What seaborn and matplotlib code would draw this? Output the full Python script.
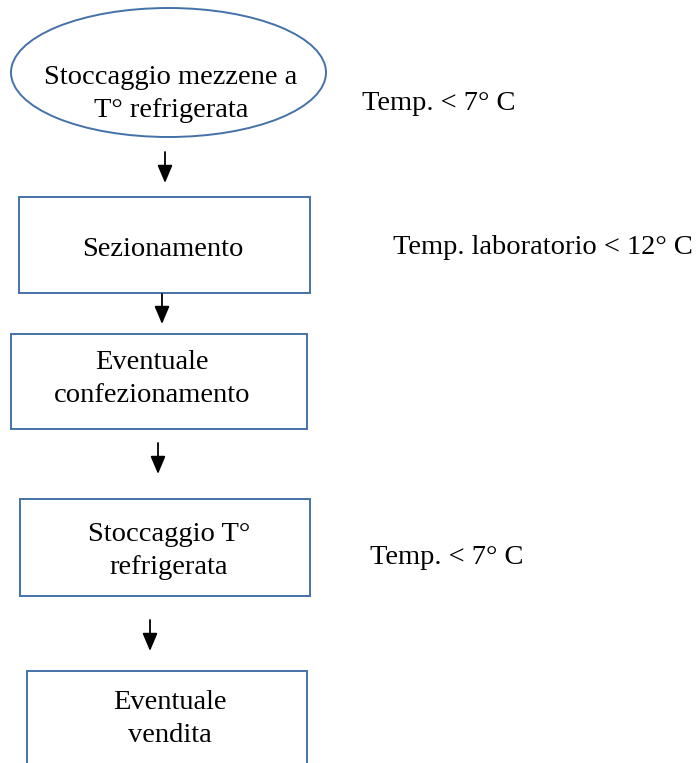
import matplotlib
matplotlib.use("Agg")
import matplotlib.pyplot as plt
from matplotlib.patches import Ellipse, Rectangle
import seaborn as sns

# flow steps (text content)
steps = ["Stoccaggio mezzene a\nT° refrigerata",
         "Sezionamento",
         "Eventuale\nconfezionamento",
         "Stoccaggio T°\nrefrigerata",
         "Eventuale\nvendita"]
shapes = ["ellipse", "box", "box", "box", "box"]
notes = ["Temp. < 7° C", "Temp. laboratorio < 12° C", None, "Temp. < 7° C", None]

# layout in pixels (x0, y0, x1, y1) for each shape, as placed on the page
boxes = [(11, 8, 326, 137), (19, 197, 310, 293), (11, 334, 307, 429),
         (20, 499, 310, 596), (27, 671, 307, 800)]
text_pos = [(171, 94), (163, 250), (152, 379), (169, 551), (170, 719)]
note_pos = [(362, 103), (393, 247), None, (370, 558), None]
arrows = [(165, 152, 183), (162, 294, 324), (158, 443, 474), (150, 620, 651)]

sns.set_theme(style="white")
plt.rcParams['font.family'] = ['Liberation Serif', 'DejaVu Serif']

W, H = 697, 763
fig = plt.figure(figsize=(W / 100, H / 100), dpi=100)
ax = fig.add_axes([0, 0, 1, 1])
ax.set_xlim(0, W)
ax.set_ylim(H, 0)
ax.axis("off")

edge = "#4472A8"
fs = 20.5
for lab, shp, (x0, y0, x1, y1), (tx, ty) in zip(steps, shapes, boxes, text_pos):
    if shp == "ellipse":
        p = Ellipse(((x0 + x1) / 2, (y0 + y1) / 2), x1 - x0, y1 - y0,
                    facecolor="white", edgecolor=edge, lw=1.4)
    else:
        p = Rectangle((x0, y0), x1 - x0, y1 - y0,
                      facecolor="white", edgecolor=edge, lw=1.4)
    ax.add_patch(p)
    ax.text(tx, ty, lab, ha="center", va="center", fontsize=fs,
            color="black", linespacing=1.42)

for n, pos in zip(notes, note_pos):
    if n is None:
        continue
    ax.text(pos[0], pos[1], n, ha="left", va="center", fontsize=fs, color="black")

for x, y0, y1 in arrows:
    ax.annotate("", xy=(x, y1), xytext=(x, y0),
                arrowprops=dict(arrowstyle="-|>,head_length=0.9,head_width=0.38",
                                color="black", lw=1.3, shrinkA=0, shrinkB=0))

fig.savefig("out.png", dpi=100)
